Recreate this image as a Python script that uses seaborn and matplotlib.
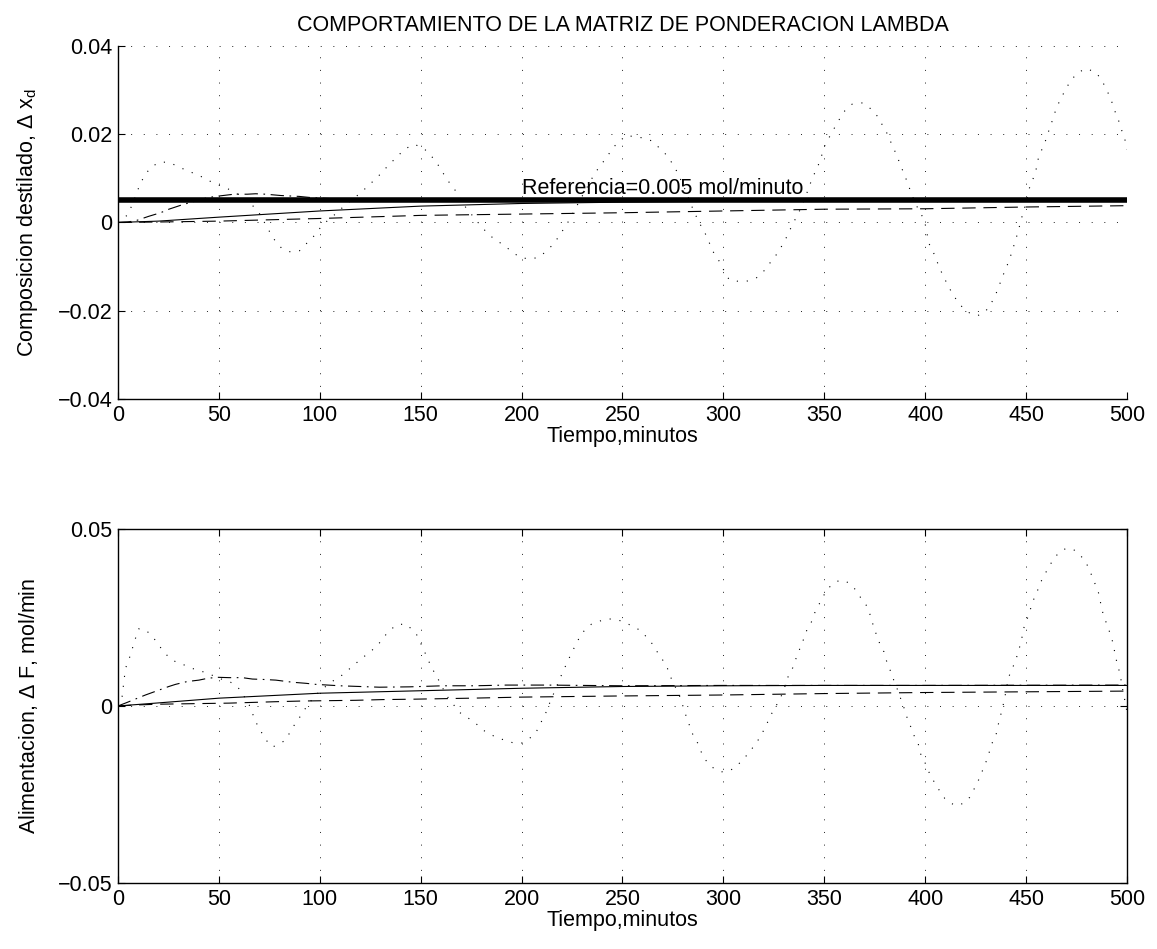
import matplotlib
matplotlib.use("Agg")
import matplotlib.pyplot as plt
import seaborn as sns

# ---------------- data ----------------
title_text = "COMPORTAMIENTO DE LA MATRIZ DE PONDERACION LAMBDA"
x_label = "Tiempo,minutos"
y_label_top = r"Composicion destilado, $\Delta$ x$_\mathrm{d}$"
y_label_bot = r"Alimentacion, $\Delta$ F, mol/min"
ref_label = "Referencia=0.005 mol/minuto"

x_ticks = [0, 50, 100, 150, 200, 250, 300, 350, 400, 450, 500]
top_yticks = [-0.04, -0.02, 0, 0.02, 0.04]
top_yticklabels = ["\u22120.04", "\u22120.02", "0", "0.02", "0.04"]
bot_yticks = [-0.05, 0, 0.05]
bot_yticklabels = ["\u22120.05", "0", "0.05"]

# top: reference
ref_t = [0, 500]
ref_v = [0.005, 0.005]

# top: solid
top_solid_t = [0, 20, 50, 100, 150, 200, 250, 300, 400, 500]
top_solid_v = [0.0, 0.0003, 0.0012, 0.0026, 0.0037, 0.0043, 0.0046, 0.0048, 0.0049, 0.0050]

# top: dashed
top_dash_t = [0, 20, 50, 100, 150, 200, 250, 300, 350, 400, 450, 500]
top_dash_v = [0.0, 0.0001, 0.0003, 0.0009, 0.0016, 0.0019, 0.0022, 0.0026, 0.0030, 0.0031, 0.0035, 0.0038]

# top: dash-dot
top_dd_t = [0, 5, 9.5, 15.3, 21.1, 25.2, 31.8, 44.2, 48.4, 57.5, 64.1, 68.2, 73.2, 80.7,
            85.1, 89.8, 96.4, 110, 130, 160, 200, 300, 400, 500]
top_dd_v = [0.0, 0.0001, 0.0005, 0.0014, 0.0022, 0.0030, 0.0040, 0.0056, 0.0059, 0.0064,
            0.0064, 0.0065, 0.0064, 0.0061, 0.0060, 0.0059, 0.0056, 0.0053, 0.0051, 0.0050,
            0.0050, 0.0050, 0.0050, 0.0050]

# top: dotted
top_dot_t = [0, 5, 9, 10.8, 13.3, 16.4, 21, 25.5, 30, 35, 40, 44, 49, 53, 60, 66, 70, 75,
             77.5, 81, 85.5, 90, 94, 97.7, 100.4, 104, 108, 112, 116, 120, 124, 127.7, 131,
             134.6, 138.3, 141.4, 146.4, 150.7, 154.3, 158, 160.8, 163.6, 166.8, 172.2,
             178.2, 182.2, 186, 190, 194.7, 199, 204, 208.6, 212.3, 216, 219, 221.4, 224,
             226, 229.5, 232.7, 235.5, 238.5, 241.8, 245.4, 249, 252, 255, 259.5, 264.5,
             268, 272, 274.8, 277.4, 281, 284.5, 287.7, 290.5, 292.6, 294.6, 297.6, 300.3,
             302.9, 306.7, 311, 316.3, 320.3, 323.4, 326.6, 329.4, 331.7, 334, 336.5,
             338.7, 341.5, 344.3, 346.5, 348.4, 350.6, 352.6, 354.9, 357.4, 360.2, 363.8,
             369, 372.9, 376.7, 379.1, 381.6, 383.7, 386, 387.7, 389.8, 391.7, 393.6,
             395.3, 398, 400, 401.9, 403.6, 405.6, 407.4, 409.7, 411.9, 414, 417, 420, 423,
             426, 429, 432, 435, 437.5, 439.2, 441.3, 443, 444.6, 446, 447.5, 448.8, 450.3,
             451.6, 453.2, 454.9, 455.9, 457.9, 459.9, 461.5, 463.2, 464.8, 467, 469.5, 472,
             475.6, 479.7, 484.7, 487.7, 490, 492.1, 493.8, 495.8, 497.4, 499.1, 500]
top_dot_v = [0.0, 0.0018, 0.0063, 0.0086, 0.0107, 0.0126, 0.0137, 0.0136, 0.0126, 0.0116,
             0.0107, 0.0097, 0.0086, 0.0080, 0.0062, 0.0042, 0.0021, -0.0020, -0.0039,
             -0.0058, -0.0067, -0.0064, -0.0045, -0.0028, -0.0011, 0.0005, 0.0020, 0.0037,
             0.0052, 0.0066, 0.0083, 0.0099, 0.0114, 0.0133, 0.0148, 0.0164, 0.0177, 0.0171,
             0.0156, 0.0135, 0.0114, 0.0094, 0.0075, 0.0035, 0.0001, -0.0020, -0.0036,
             -0.0048, -0.0064, -0.0079, -0.0083, -0.0079, -0.0065, -0.0048, -0.0028,
             -0.0011, 0.0008, 0.0026, 0.0055, 0.0082, 0.0105, 0.0126, 0.0145, 0.0170,
             0.0186, 0.0197, 0.0195, 0.0192, 0.0185, 0.0170, 0.0152, 0.0133, 0.0112,
             0.0075, 0.0035, 0.0002, -0.0020, -0.0041, -0.0064, -0.0085, -0.0109, -0.0130,
             -0.0133, -0.0134, -0.0126, -0.0109, -0.0090, -0.0071, -0.0050, -0.0030,
             -0.0007, 0.0015, 0.0035, 0.0068, 0.0103, 0.0123, 0.0147, 0.0179, 0.0194,
             0.0213, 0.0233, 0.0253, 0.0268, 0.0271, 0.0258, 0.0239, 0.0218, 0.0198,
             0.0174, 0.0152, 0.0130, 0.0108, 0.0084, 0.0061, 0.0041, 0.0020, -0.0003,
             -0.0048, -0.0062, -0.0085, -0.0106, -0.0128, -0.0148, -0.0165, -0.0185,
             -0.0199, -0.0208, -0.0211, -0.0206, -0.0190, -0.0163, -0.0133, -0.0113,
             -0.0090, -0.0067, -0.0043, -0.0022, 0.0005, 0.0026, 0.0050, 0.0077, 0.0095,
             0.0118, 0.0142, 0.0166, 0.0188, 0.0211, 0.0233, 0.0256, 0.0279, 0.0300,
             0.0321, 0.0339, 0.0349, 0.0340, 0.0321, 0.0300, 0.0279, 0.0255, 0.0232,
             0.0209, 0.0186, 0.0165]

# bottom: solid
bot_solid_t = [0, 18.6, 50, 100, 150, 200, 250, 300, 350, 400, 450, 500]
bot_solid_v = [0.0, 0.0008, 0.0022, 0.0036, 0.0043, 0.0050, 0.0055, 0.0057, 0.0058, 0.0058, 0.0058, 0.0058]

# bottom: dashed
bot_dash_t = [0, 10, 20, 55, 78, 91.5, 118, 131, 145, 175, 200, 245, 300, 350, 400, 450, 500]
bot_dash_v = [0.0, 0.0003, 0.0005, 0.0008, 0.0012, 0.0014, 0.0016, 0.0018, 0.0019, 0.0022,
              0.0025, 0.0028, 0.0031, 0.0035, 0.0038, 0.0040, 0.0042]

# bottom: dash-dot
bot_dd_t = [0, 4.5, 13.6, 19.4, 25.2, 28.5, 34.3, 40.1, 44.3, 49.2, 55, 61.6, 66.6, 71.6,
            78.2, 86.5, 93.1, 98, 110, 129.5, 144.4, 161, 176.7, 192.4, 212, 250, 300, 400, 500]
bot_dd_v = [0.0, 0.0010, 0.0031, 0.0043, 0.0055, 0.0061, 0.0069, 0.0073, 0.0078, 0.0081,
            0.0080, 0.0080, 0.0076, 0.0075, 0.0073, 0.0067, 0.0064, 0.0061, 0.0057, 0.0053,
            0.0054, 0.0057, 0.0057, 0.0059, 0.0059, 0.0057, 0.0058, 0.0058, 0.0059]

# bottom: dotted
bot_dot_t = [0, 2, 3.7, 5.3, 6.7, 7.8, 10.3, 13.6, 16.1, 18.9, 21.1, 24.9, 29, 32.7, 36.8,
             41, 45.1, 48.4, 52.5, 55.8, 59.1, 61.6, 65, 68.2, 70.2, 72.4, 74.5, 76.5, 79.8,
             83.1, 86.5, 89, 94, 98, 104.7, 111.3, 118, 122.9, 128.2, 133.1, 137.8, 142.7,
             147.7, 151, 155.2, 159.6, 162.6, 169.2, 176.7, 180.8, 187.5, 195.7, 199.9,
             203.2, 207.3, 212.3, 213.9, 220.1, 224.7, 229.7, 234.6, 241.3, 245.4, 249.5,
             252.6, 256.2, 259.2, 261.7, 264.2, 266.2, 268.1, 270.3, 272.3, 273.6, 275.3,
             277, 278.6, 281.1, 282.4, 284, 285.2, 287.3, 288.8, 290.5, 293, 295.6, 299.3,
             302.6, 305.9, 308.4, 310.9, 313.3, 315.5, 317.5, 319.5, 321.1, 322.8, 324.6,
             326.6, 328.4, 329.9, 331.2, 332.4, 334.4, 335.7, 337.3, 338.5, 340.2, 341.5,
             343.5, 344.8, 346.5, 348.4, 350.3, 351.9, 354.7, 358, 361.7, 364.7, 366.7,
             368.8, 371.3, 373.8, 374.6, 376.6, 377.6, 379.6, 380.7, 382.1, 383.7, 385,
             386.7, 387.8, 389.2, 390.7, 391.5, 393.6, 394.8, 396.6, 397.4, 399.4, 400.6,
             401.9, 403.6, 405.6, 407.4, 409.7, 412.7, 416, 419.6, 422.1, 423.9, 425.4,
             427.6, 428.7, 430.4, 431.7, 432.9, 435, 436.7, 437.8, 438.8, 439.7, 441.3, 443,
             444.5, 445.8, 447, 448, 448.8, 450.3, 451.3, 452.7, 454.1, 455.7, 457.1, 459,
             460.7, 462.7, 465.5, 468.5, 471, 474, 477, 479.7, 481.4, 483, 484.4, 485.9,
             487.7, 488.8, 490.5, 491.7, 493, 493.8, 494.6, 495.8, 496.8, 498.3, 499.3, 500]
bot_dot_v = [0.0, 0.0026, 0.0106, 0.0130, 0.0153, 0.0177, 0.0218, 0.0215, 0.0202, 0.0183,
             0.0165, 0.0139, 0.0123, 0.0116, 0.0106, 0.0099, 0.0090, 0.0083, 0.0073, 0.0067,
             0.0055, 0.0036, 0.0003, -0.0044, -0.0066, -0.0087, -0.0105, -0.0116, -0.0108,
             -0.0096, -0.0061, -0.0041, 0.0003, 0.0031, 0.0064, 0.0088, 0.0121, 0.0144,
             0.0168, 0.0204, 0.0229, 0.0232, 0.0205, 0.0165, 0.0111, 0.0066, 0.0031,
             -0.0018, -0.0046, -0.0068, -0.0089, -0.0104, -0.0105, -0.0096, -0.0073,
             -0.0016, 0.0008, 0.0092, 0.0149, 0.0205, 0.0231, 0.0245, 0.0246, 0.0240,
             0.0232, 0.0222, 0.0212, 0.0196, 0.0180, 0.0163, 0.0144, 0.0127, 0.0106, 0.0085,
             0.0064, 0.0044, 0.0024, -0.0021, -0.0044, -0.0065, -0.0087, -0.0105, -0.0127,
             -0.0148, -0.0165, -0.0178, -0.0186, -0.0184, -0.0174, -0.0159, -0.0144,
             -0.0127, -0.0111, -0.0094, -0.0074, -0.0056, -0.0035, -0.0014, 0.0005, 0.0024,
             0.0045, 0.0067, 0.0088, 0.0108, 0.0130, 0.0151, 0.0174, 0.0193, 0.0217, 0.0235,
             0.0257, 0.0278, 0.0297, 0.0318, 0.0332, 0.0347, 0.0356, 0.0349, 0.0334, 0.0318,
             0.0299, 0.0281, 0.0240, 0.0215, 0.0196, 0.0172, 0.0153, 0.0130, 0.0108, 0.0088,
             0.0061, 0.0042, 0.0022, 0.0000, -0.0024, -0.0046, -0.0065, -0.0089, -0.0107,
             -0.0132, -0.0151, -0.0171, -0.0187, -0.0206, -0.0225, -0.0242, -0.0261,
             -0.0275, -0.0282, -0.0273, -0.0258, -0.0240, -0.0218, -0.0200, -0.0176,
             -0.0155, -0.0132, -0.0108, -0.0085, -0.0041, -0.0018, 0.0006, 0.0031, 0.0080,
             0.0104, 0.0123, 0.0146, 0.0170, 0.0194, 0.0219, 0.0240, 0.0259, 0.0282, 0.0306,
             0.0326, 0.0348, 0.0368, 0.0387, 0.0406, 0.0428, 0.0442, 0.0446, 0.0440, 0.0425,
             0.0406, 0.0384, 0.0363, 0.0342, 0.0320, 0.0271, 0.0248, 0.0226, 0.0203, 0.0180,
             0.0156, 0.0133, 0.0108, 0.0083, 0.0033, 0.0008, -0.0018]

# ---------------- styling ----------------
sns.set_theme(style="white")
plt.rcParams["font.family"] = ["Liberation Sans", "DejaVu Sans"]
plt.rcParams["mathtext.fontset"] = "custom"
plt.rcParams["mathtext.rm"] = "Liberation Sans"
plt.rcParams["mathtext.it"] = "Liberation Sans:italic"
plt.rcParams["mathtext.default"] = "regular"
plt.rcParams["axes.unicode_minus"] = True
plt.rcParams["text.color"] = "black"
plt.rcParams["axes.labelcolor"] = "black"
plt.rcParams["axes.titlecolor"] = "black"
plt.rcParams["xtick.color"] = "black"
plt.rcParams["ytick.color"] = "black"

FS = 15.5
LW = 0.8
DOT = (0, (1, 8))
DASH = (0, (12, 7))
DASHDOT = (0, (12, 5, 1.5, 5))

fig = plt.figure(figsize=(11.57, 9.49), dpi=100)
ax1 = fig.add_axes([0.102, 0.5796, 0.872, 0.3720])
ax2 = fig.add_axes([0.102, 0.0696, 0.872, 0.3730])


def style_axes(ax, yticks, yticklabels, ylim, boxed):
    ax.set_facecolor("white")
    ax.set_xlim(0, 500)
    ax.set_ylim(*ylim)
    ax.set_xticks(x_ticks)
    ax.set_xticklabels([str(v) for v in x_ticks], fontsize=FS, color="black")
    ax.set_yticks(yticks)
    ax.set_yticklabels(yticklabels, fontsize=FS, color="black")
    ax.grid(True, color="#222222", linestyle=(0, (1, 12)), linewidth=0.7)
    for side in ["left", "bottom"]:
        ax.spines[side].set_visible(True)
        ax.spines[side].set_color("black")
        ax.spines[side].set_linewidth(1.0)
    for side in ["top", "right"]:
        ax.spines[side].set_visible(boxed)
        ax.spines[side].set_color("black")
        ax.spines[side].set_linewidth(1.0)
    ax.tick_params(direction="in", length=5, width=0.8, colors="black",
                   top=boxed, right=boxed, bottom=True, left=True, pad=4)
    ax.set_xlabel(x_label, fontsize=FS, labelpad=0, color="black")


# ---- top ----
sns.lineplot(x=ref_t, y=ref_v, ax=ax1, color="black", linewidth=4.0, estimator=None)
sns.lineplot(x=top_solid_t, y=top_solid_v, ax=ax1, color="black", linewidth=LW, estimator=None)
sns.lineplot(x=top_dash_t, y=top_dash_v, ax=ax1, color="black", linewidth=LW, linestyle=DASH, estimator=None)
sns.lineplot(x=top_dd_t, y=top_dd_v, ax=ax1, color="black", linewidth=LW, linestyle=DASHDOT, estimator=None)
sns.lineplot(x=top_dot_t, y=top_dot_v, ax=ax1, color="black", linewidth=LW, linestyle=DOT, estimator=None)
style_axes(ax1, top_yticks, top_yticklabels, (-0.04, 0.04), boxed=False)
ax1.set_ylabel(y_label_top, fontsize=FS, labelpad=13, color="black")
ax1.set_title(title_text, fontsize=FS, pad=11, color="black")
ax1.text(200, 0.0053, ref_label, fontsize=FS, ha="left", va="bottom", color="black")

# ---- bottom ----
sns.lineplot(x=bot_solid_t, y=bot_solid_v, ax=ax2, color="black", linewidth=LW, estimator=None)
sns.lineplot(x=bot_dash_t, y=bot_dash_v, ax=ax2, color="black", linewidth=LW, linestyle=DASH, estimator=None)
sns.lineplot(x=bot_dd_t, y=bot_dd_v, ax=ax2, color="black", linewidth=LW, linestyle=DASHDOT, estimator=None)
sns.lineplot(x=bot_dot_t, y=bot_dot_v, ax=ax2, color="black", linewidth=LW, linestyle=DOT, estimator=None)
style_axes(ax2, bot_yticks, bot_yticklabels, (-0.05, 0.05), boxed=True)
ax2.set_ylabel(y_label_bot, fontsize=FS, labelpad=13, color="black")

fig.savefig("out.png", dpi=100, facecolor="white")
